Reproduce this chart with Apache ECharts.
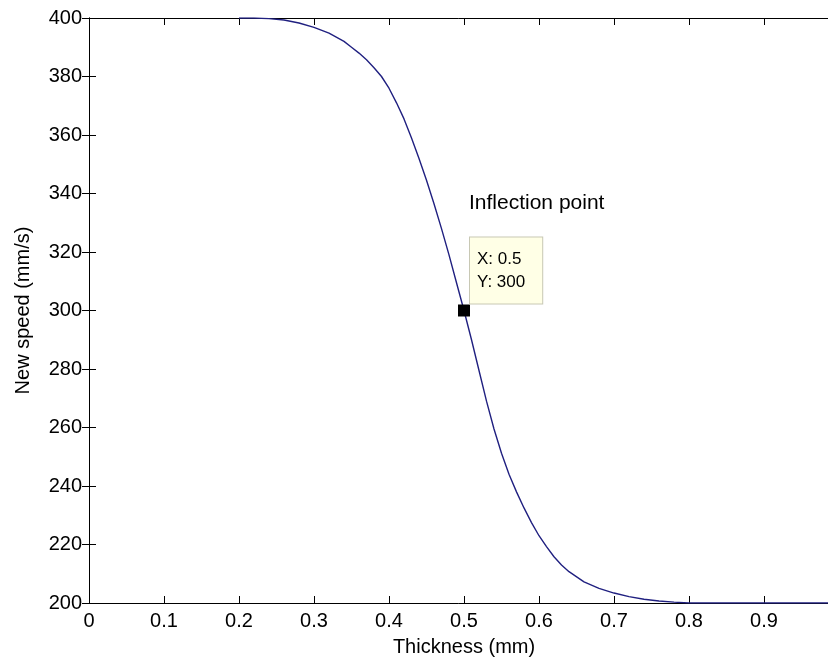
<!DOCTYPE html>
<html>
<head>
<meta charset="utf-8">
<script src="https://cdn.jsdelivr.net/npm/echarts@6/dist/echarts.min.js"></script>
<style>html,body{margin:0;padding:0;background:#fff}#c{width:828px;height:666px}</style>
</head>
<body>
<div id="c"></div>
<script>
// Data
const thickness = [0.20, 0.22, 0.24, 0.26, 0.28, 0.30, 0.32, 0.34, 0.35, 0.36, 0.37, 0.38, 0.39, 0.40, 0.41, 0.42,
  0.43, 0.44, 0.45, 0.46, 0.47, 0.48, 0.49, 0.50, 0.51, 0.52, 0.53, 0.54, 0.55, 0.56, 0.57, 0.58, 0.59, 0.60,
  0.61, 0.62, 0.63, 0.64, 0.66, 0.68, 0.70, 0.72, 0.74, 0.76, 0.78, 0.80, 0.90, 1.00];
const newSpeed = [400, 400, 399.8, 399.3, 398.3, 396.8, 394.8, 392, 390, 388, 385.7, 383, 380, 376, 371, 365.5,
  359, 352, 344.5, 336.5, 328, 319, 309.5, 300, 290, 279.5, 269, 259.5, 251.2, 244, 238, 232.5, 227.5, 223,
  219.3, 215.8, 213, 210.7, 207.2, 205, 203.4, 202.2, 201.3, 200.7, 200.3, 200, 200, 200];
const inflectionX = [0.5];
const inflectionY = [300];
const xTicks = [0, 0.1, 0.2, 0.3, 0.4, 0.5, 0.6, 0.7, 0.8, 0.9, 1];
const yTicks = [200, 220, 240, 260, 280, 300, 320, 340, 360, 380, 400];
const annotationTitle = 'Inflection point';

const FONT = '"Liberation Sans", Arial, sans-serif';
const chart = echarts.init(document.getElementById('c'), null, {renderer: 'canvas'});

const curve = thickness.map((x, i) => [x, newSpeed[i]]);
const marker = inflectionX.map((x, i) => [x, inflectionY[i]]);
const fmtX = v => String(+(+v).toFixed(1));

const axisCommon = {
  type: 'value',
  axisLine: {show: true, lineStyle: {color: '#000', width: 1}},
  axisTick: {show: true, inside: true, length: 7, lineStyle: {color: '#000', width: 1}},
  splitLine: {show: false}
};

chart.setOption({
  backgroundColor: '#fff',
  animation: false,
  grid: {left: 89, top: 18, width: 750, height: 585, containLabel: false, outerBoundsMode: 'none'},
  xAxis: [
    Object.assign({}, axisCommon, {
      position: 'bottom', min: xTicks[0], max: xTicks[xTicks.length - 1], interval: 0.1,
      axisLabel: {color: '#000', fontFamily: FONT, fontSize: 20, margin: 8, formatter: fmtX},
      name: 'Thickness (mm)', nameLocation: 'middle', nameGap: 34,
      nameTextStyle: {color: '#000', fontFamily: FONT, fontSize: 20}
    }),
    Object.assign({}, axisCommon, {
      position: 'top', min: xTicks[0], max: xTicks[xTicks.length - 1], interval: 0.1,
      axisLabel: {show: false}
    })
  ],
  yAxis: [
    Object.assign({}, axisCommon, {
      position: 'left', min: yTicks[0], max: yTicks[yTicks.length - 1], interval: 20,
      axisLabel: {color: '#000', fontFamily: FONT, fontSize: 20, margin: 7},
      name: 'New speed (mm/s)', nameLocation: 'middle', nameGap: 56, nameRotate: 90,
      nameTextStyle: {color: '#000', fontFamily: FONT, fontSize: 20}
    }),
    Object.assign({}, axisCommon, {
      position: 'right', min: yTicks[0], max: yTicks[yTicks.length - 1], interval: 20,
      axisLabel: {show: false}
    })
  ],
  series: [
    {
      type: 'line', data: curve, showSymbol: false, smooth: false,
      lineStyle: {color: '#202080', width: 1.4}, z: 3
    },
    {
      type: 'scatter', data: marker, symbol: 'rect', symbolSize: 12,
      itemStyle: {color: '#000', opacity: 1}, z: 5,
      label: {
        show: true, position: [12, -67],
        formatter: p => 'X: ' + fmtX(p.value[0]) + '\nY: ' + p.value[1],
        color: '#000', fontFamily: FONT, fontSize: 17, lineHeight: 23,
        backgroundColor: '#ffffe6', borderColor: '#c8c8b4', borderWidth: 1,
        padding: [10, 17, 10, 7], align: 'left', verticalAlign: 'top'
      }
    }
  ],
  graphic: [
    {type: 'text', left: 469, top: 193, style: {text: annotationTitle, fill: '#000', font: '21px ' + FONT}}
  ]
});
</script>
</body>
</html>
